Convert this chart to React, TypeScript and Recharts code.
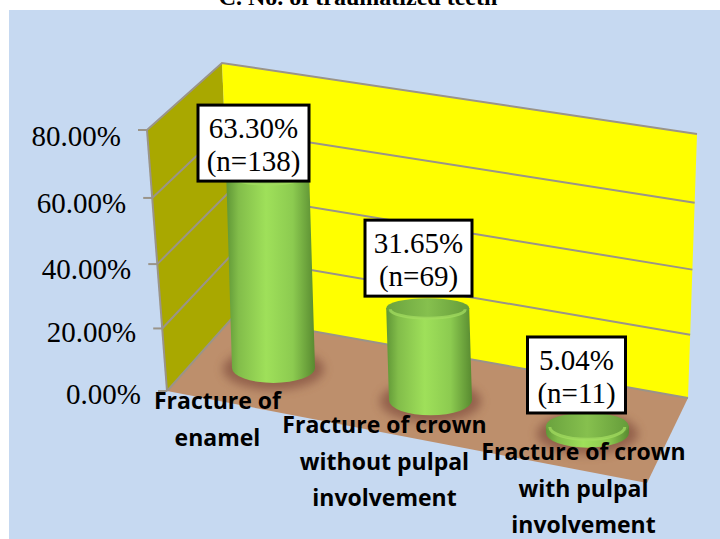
import { Bar, BarChart, CartesianGrid, LabelList, XAxis, YAxis } from "recharts";

const categoryLines = [
  ["Fracture of", "enamel"],
  ["Fracture of crown", "without pulpal", "involvement"],
  ["Fracture of crown", "with pulpal", "involvement"],
];
const categories = categoryLines.map((lines) => lines.join(" "));
const percents = [63.3, 31.65, 5.04];
const counts = [138, 69, 11];
const yTicks = [0, 20, 40, 60, 80];

const data = categories.map((name, i) => ({ name, percent: percents[i], n: counts[i] }));

// layout of the fake 3D box
const PLOT_TOP = 130;
const PLOT_BOTTOM = 391;
const AXIS_TOP_X = 147;
const AXIS_BOTTOM_X = 167;
const labelBoxWidth = [111, 107, 98];
const labelShiftX = [-20, -12, -11];
const labelShiftY = [7, -12, -13];
const catLabelDx = [-56, -46, -4];
const catLabelY = [409, 433, 460];

// slight perspective: steps shrink towards the floor
const depth = (y: number) => {
  const t = (y - PLOT_TOP) / (PLOT_BOTTOM - PLOT_TOP);
  return t + 0.055 * t * (1 - t);
};
const warpY = (y: number) => PLOT_TOP + (PLOT_BOTTOM - PLOT_TOP) * depth(y);
const axisX = (y: number) => AXIS_TOP_X + (AXIS_BOTTOM_X - AXIS_TOP_X) * depth(y);

// bars sit further back on the sloping floor, so they are shifted and foreshortened
const cylinder = (x: number, y: number, width: number, height: number) => {
  const rx = width / 2;
  const baseCx = x + rx;
  const drawn = height * 0.985 - 9.5;
  const baseY = 368 + (baseCx - 273.5) * 0.206;
  const topY = baseY - drawn;
  const topCx = baseCx - drawn * 0.03;
  return { rx, baseCx, baseY, topY, topCx };
};

const CylinderBar = (props: any) => {
  const { x, y, width, height } = props;
  const { rx, baseCx, baseY, topY, topCx } = cylinder(x, y, width, height);
  const baseRy = 15;
  const topRy = 10 + Math.max(0, baseY - 405) * 0.12;
  return (
    <g>
      <ellipse cx={baseCx} cy={baseY + 1} rx={rx + 9} ry={baseRy + 6} fill="#7d4a3a" opacity={0.65} filter="url(#floorShadow)" />
      <path
        d={`M${topCx - rx},${topY} L${baseCx - rx},${baseY} A${rx},${baseRy} 0 0 0 ${baseCx + rx},${baseY} L${topCx + rx},${topY} Z`}
        fill="url(#cylSide)"
      />
      <ellipse cx={topCx} cy={topY} rx={rx} ry={topRy} fill="url(#cylTop)" />
      <path
        d={`M${topCx - rx + 4},${topY + 1} A${rx - 4},${topRy - 1} 0 0 0 ${topCx + rx - 4},${topY + 1}`}
        fill="none"
        stroke="#a3dc60"
        strokeWidth={3}
        opacity={0.75}
      />
    </g>
  );
};

const ValueLabel = (props: any) => {
  const { x, y, width, height, index } = props;
  const { baseCx, topY } = cylinder(x, y, width, height);
  const w = labelBoxWidth[index];
  const h = 76;
  const cx = baseCx + labelShiftX[index];
  const bottom = topY + labelShiftY[index];
  const top = bottom - h;
  return (
    <g fontFamily="'Liberation Serif', serif" fontSize={29} fill="#000" textAnchor="middle">
      <rect x={cx - w / 2} y={top} width={w} height={h} fill="#fff" stroke="#000" strokeWidth={3} />
      <text x={cx} y={top + 33}>{percents[index].toFixed(2)}%</text>
      <text x={cx} y={top + 66}>(n={counts[index]})</text>
    </g>
  );
};

const PercentTick = (props: any) => {
  const { y, payload } = props;
  const ax = axisX(y);
  const wy = warpY(y);
  return (
    <g>
      <line x1={ax - 9} y1={wy} x2={ax} y2={wy} stroke="#9a9489" strokeWidth={2} />
      <text x={ax - 26} y={wy + 13 + (PLOT_BOTTOM - wy) / 80} textAnchor="end" fontFamily="'Liberation Serif', serif" fontSize={29} fill="#000">
        {Number(payload.value).toFixed(2)}%
      </text>
    </g>
  );
};

const CategoryTick = (props: any) => {
  const { x, payload } = props;
  const i = payload.index;
  return (
    <g fontFamily="'Open Sans', sans-serif" fontWeight={700} fontSize={23} fill="#000" textAnchor="middle">
      {categoryLines[i].map((line, k) => (
        <text key={k} x={x + catLabelDx[i]} y={catLabelY[i] + k * 36.5}>{line}</text>
      ))}
    </g>
  );
};

// one gridline runs along the left wall and then across the back wall
const WallGridLine = (props: any) => {
  const y = props.y1;
  const t = depth(y);
  const bx = 222 + 11 * t;
  const by = 63 + 254 * t;
  const rx = 697 - 9 * t;
  const ry = 134 + 264 * t;
  return (
    <polyline
      key={props.key ?? y}
      points={`${axisX(y)},${warpY(y)} ${bx},${by} ${rx},${ry}`}
      fill="none"
      stroke="#9a9489"
      strokeWidth={2}
    />
  );
};

const Backdrop = () => (
  <svg width={720} height={539} style={{ position: "absolute", left: 0, top: 0 }}>
    <defs>
      <linearGradient id="cylSide" x1="0" y1="0" x2="1" y2="0">
        <stop offset="0%" stopColor="#5f9636" />
        <stop offset="14%" stopColor="#82bd4a" />
        <stop offset="45%" stopColor="#9fe05a" />
        <stop offset="75%" stopColor="#8ccb50" />
        <stop offset="100%" stopColor="#588a30" />
      </linearGradient>
      <linearGradient id="cylTop" x1="0" y1="0" x2="1" y2="0">
        <stop offset="0%" stopColor="#6aa23e" />
        <stop offset="50%" stopColor="#86c04e" />
        <stop offset="100%" stopColor="#659c3a" />
      </linearGradient>
      <filter id="floorShadow" x="-30%" y="-60%" width="160%" height="220%">
        <feGaussianBlur stdDeviation="5" />
      </filter>
    </defs>
    <text x={358} y={5} textAnchor="middle" fontFamily="'Liberation Serif', serif" fontWeight={700} fontSize={24} fill="#000">
      C. No. of traumatized teeth
    </text>
    <rect x={9} y={10} width={711} height={529} fill="#c6d9f1" />
    <polygon points="147,130 222,63 233,317 167,391" fill="#a9a800" />
    <polygon points="222,63 697,134 688,398 233,317" fill="#ffff00" />
    <polygon points="167,391 233,317 688,398 647,483" fill="#bd8f6c" />
    <line x1={147} y1={130} x2={167} y2={391} stroke="#9a9489" strokeWidth={2} />
  </svg>
);

const App = () => {
  return (
    <div style={{ position: "absolute", left: 0, top: 0, width: 720, height: 539 }}>
      <Backdrop />
      <BarChart
        width={720}
        height={539}
        data={data}
        margin={{ top: PLOT_TOP, right: 54, bottom: 128, left: 135 }}
        style={{ position: "absolute", left: 0, top: 0 }}
      >
        <CartesianGrid vertical={false} horizontal={WallGridLine} />
        <XAxis dataKey="name" height={20} interval={0} axisLine={false} tickLine={false} tick={CategoryTick} />
        <YAxis width={60} domain={[0, 80]} ticks={yTicks} axisLine={false} tickLine={false} tick={PercentTick} />
        <Bar dataKey="percent" barSize={83} shape={CylinderBar} isAnimationActive={false}>
          <LabelList dataKey="percent" content={ValueLabel} />
        </Bar>
      </BarChart>
    </div>
  );
};

export default App;
